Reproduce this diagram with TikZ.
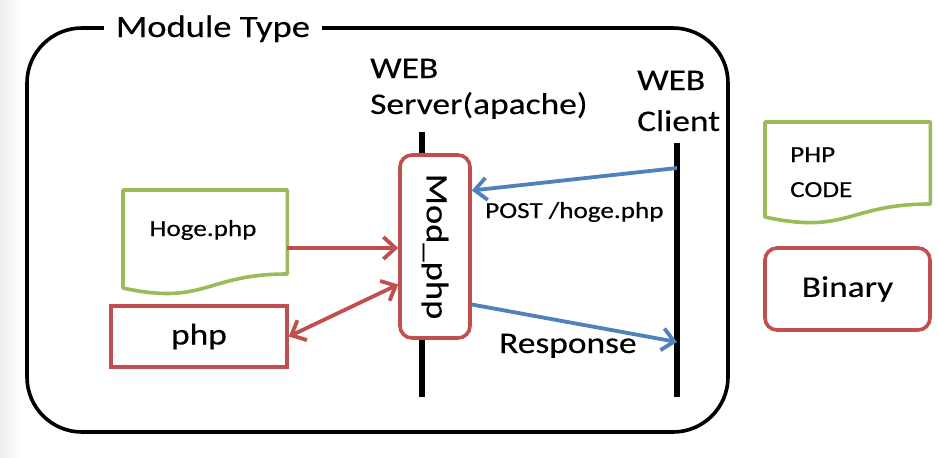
\documentclass[tikz,border=0pt]{standalone}
\usepackage{fontspec}
\setmainfont{Carlito}[FakeStretch=1.18,FakeBold=0.3]
\usetikzlibrary{arrows.meta,calc}
\definecolor{ored}{HTML}{C0504D}
\definecolor{oblue}{HTML}{4F81BD}
\definecolor{ogreen}{HTML}{9BBB59}
\tikzset{
  lbl/.style={inner sep=0pt, font=\fontsize{30}{36}\selectfont},
  small/.style={inner sep=0pt, font=\fontsize{23}{28}\selectfont},
  frame/.style={line width=3.6pt, rounded corners=55pt},
  binbox/.style={draw=ored, fill=white, line width=3.6pt, rounded corners=12pt, inner sep=0pt},
  plainbox/.style={draw=ored, fill=white, line width=3.6pt, inner sep=0pt},
  docshape/.style={draw=ogreen, line width=3.6pt, line join=round},
  life/.style={line width=6pt},
  redarr/.style={draw=ored, line width=3.8pt, -{Straight Barb[length=12pt,width=22pt]}},
  redboth/.style={draw=ored, line width=3.8pt, {Straight Barb[length=12pt,width=22pt]}-{Straight Barb[length=12pt,width=22pt]}},
  bluearr/.style={draw=oblue, line width=3.8pt, -{Straight Barb[length=12pt,width=22pt]}}
}
\begin{document}
\begin{tikzpicture}[x=1pt,y=-1pt]
\useasboundingbox (0,0) rectangle (938,458);
\fill[white] (0,0) rectangle (938,458);
\shade[left color=black!7, right color=white] (0,0) rectangle (22,458);

% outer frame
\draw[frame] (27,28) rectangle (728,432);
\node[lbl, font=\fontsize{31}{36}\selectfont, anchor=base, fill=white, inner xsep=12pt, inner ysep=3pt] (title) at (213,37) {Module Type};

% labels of lifelines
\node[lbl, anchor=base west] (srvA) at (370,78) {WEB};
\node[lbl, anchor=base west] (srvB) at (370,114) {Server(apache)};
\node[lbl, anchor=base west] (cliA) at (637,90) {WEB};
\node[lbl, anchor=base west] (cliB) at (637,131) {Client};

% lifelines
\coordinate (s1) at (422,132);
\coordinate (s2) at (422,397);
\coordinate (k1) at (677,143);
\coordinate (k2) at (677,397);
\draw[life] (s1) -- (s2);
\draw[life] (k1) -- (k2);

% Mod_php
\node[binbox, minimum width=70pt, minimum height=183pt] (modphp) at (435,246.5) {};
\node[lbl, font=\fontsize{31}{36}\selectfont, rotate=-90] (modtxt) at (modphp.center) {Mod\_php};

% Hoge.php document
\node[minimum width=164pt, minimum height=105pt, inner sep=0pt, anchor=north west] (hoge) at (123,190) {};
\draw[docshape] (hoge.north west) -- (hoge.north east) -- ($(hoge.north east)+(0,84)$)
  .. controls ($(hoge.north)+(0,84)$) and ($(hoge.north)+(0,116)$) .. ($(hoge.north west)+(0,98)$) -- cycle;
\node[small, anchor=base] (hogetxt) at (203,236) {Hoge.php};

% php box
\node[plainbox, lbl, minimum width=176pt, minimum height=61pt] (php) at (199,336.5) {php};

% arrows
\draw[redarr] (hoge.east |- 0,248) -- (modphp.west |- 0,248);
\draw[redboth] (php.east) -- ($(modphp.west)+(0,38)$);
\coordinate (c1) at (677,168);
\coordinate (c2) at (677,342);
\draw[bluearr] (c1) -- ($(modphp.east)+(0,-56)$);
\draw[bluearr] ($(modphp.east)+(0,58)$) -- (c2);
\node[small, anchor=base west] (post) at (485,218) {POST /hoge.php};
\node[lbl, anchor=base west] (resp) at (499,353) {Response};

% legend
\node[minimum width=165pt, minimum height=102pt, inner sep=0pt, anchor=north west] (legdoc) at (765,122) {};
\draw[docshape] (legdoc.north west) -- (legdoc.north east) -- ($(legdoc.north east)+(0,82)$)
  .. controls ($(legdoc.north)+(0,82)$) and ($(legdoc.north)+(0,113)$) .. ($(legdoc.north west)+(0,95)$) -- cycle;
\node[small, anchor=base west] (legA) at (790,162) {PHP};
\node[small, anchor=base west] (legB) at (790,197) {CODE};
\node[binbox, lbl, minimum width=165pt, minimum height=82pt] (bin) at (847.5,289) {Binary};
\end{tikzpicture}
\end{document}
